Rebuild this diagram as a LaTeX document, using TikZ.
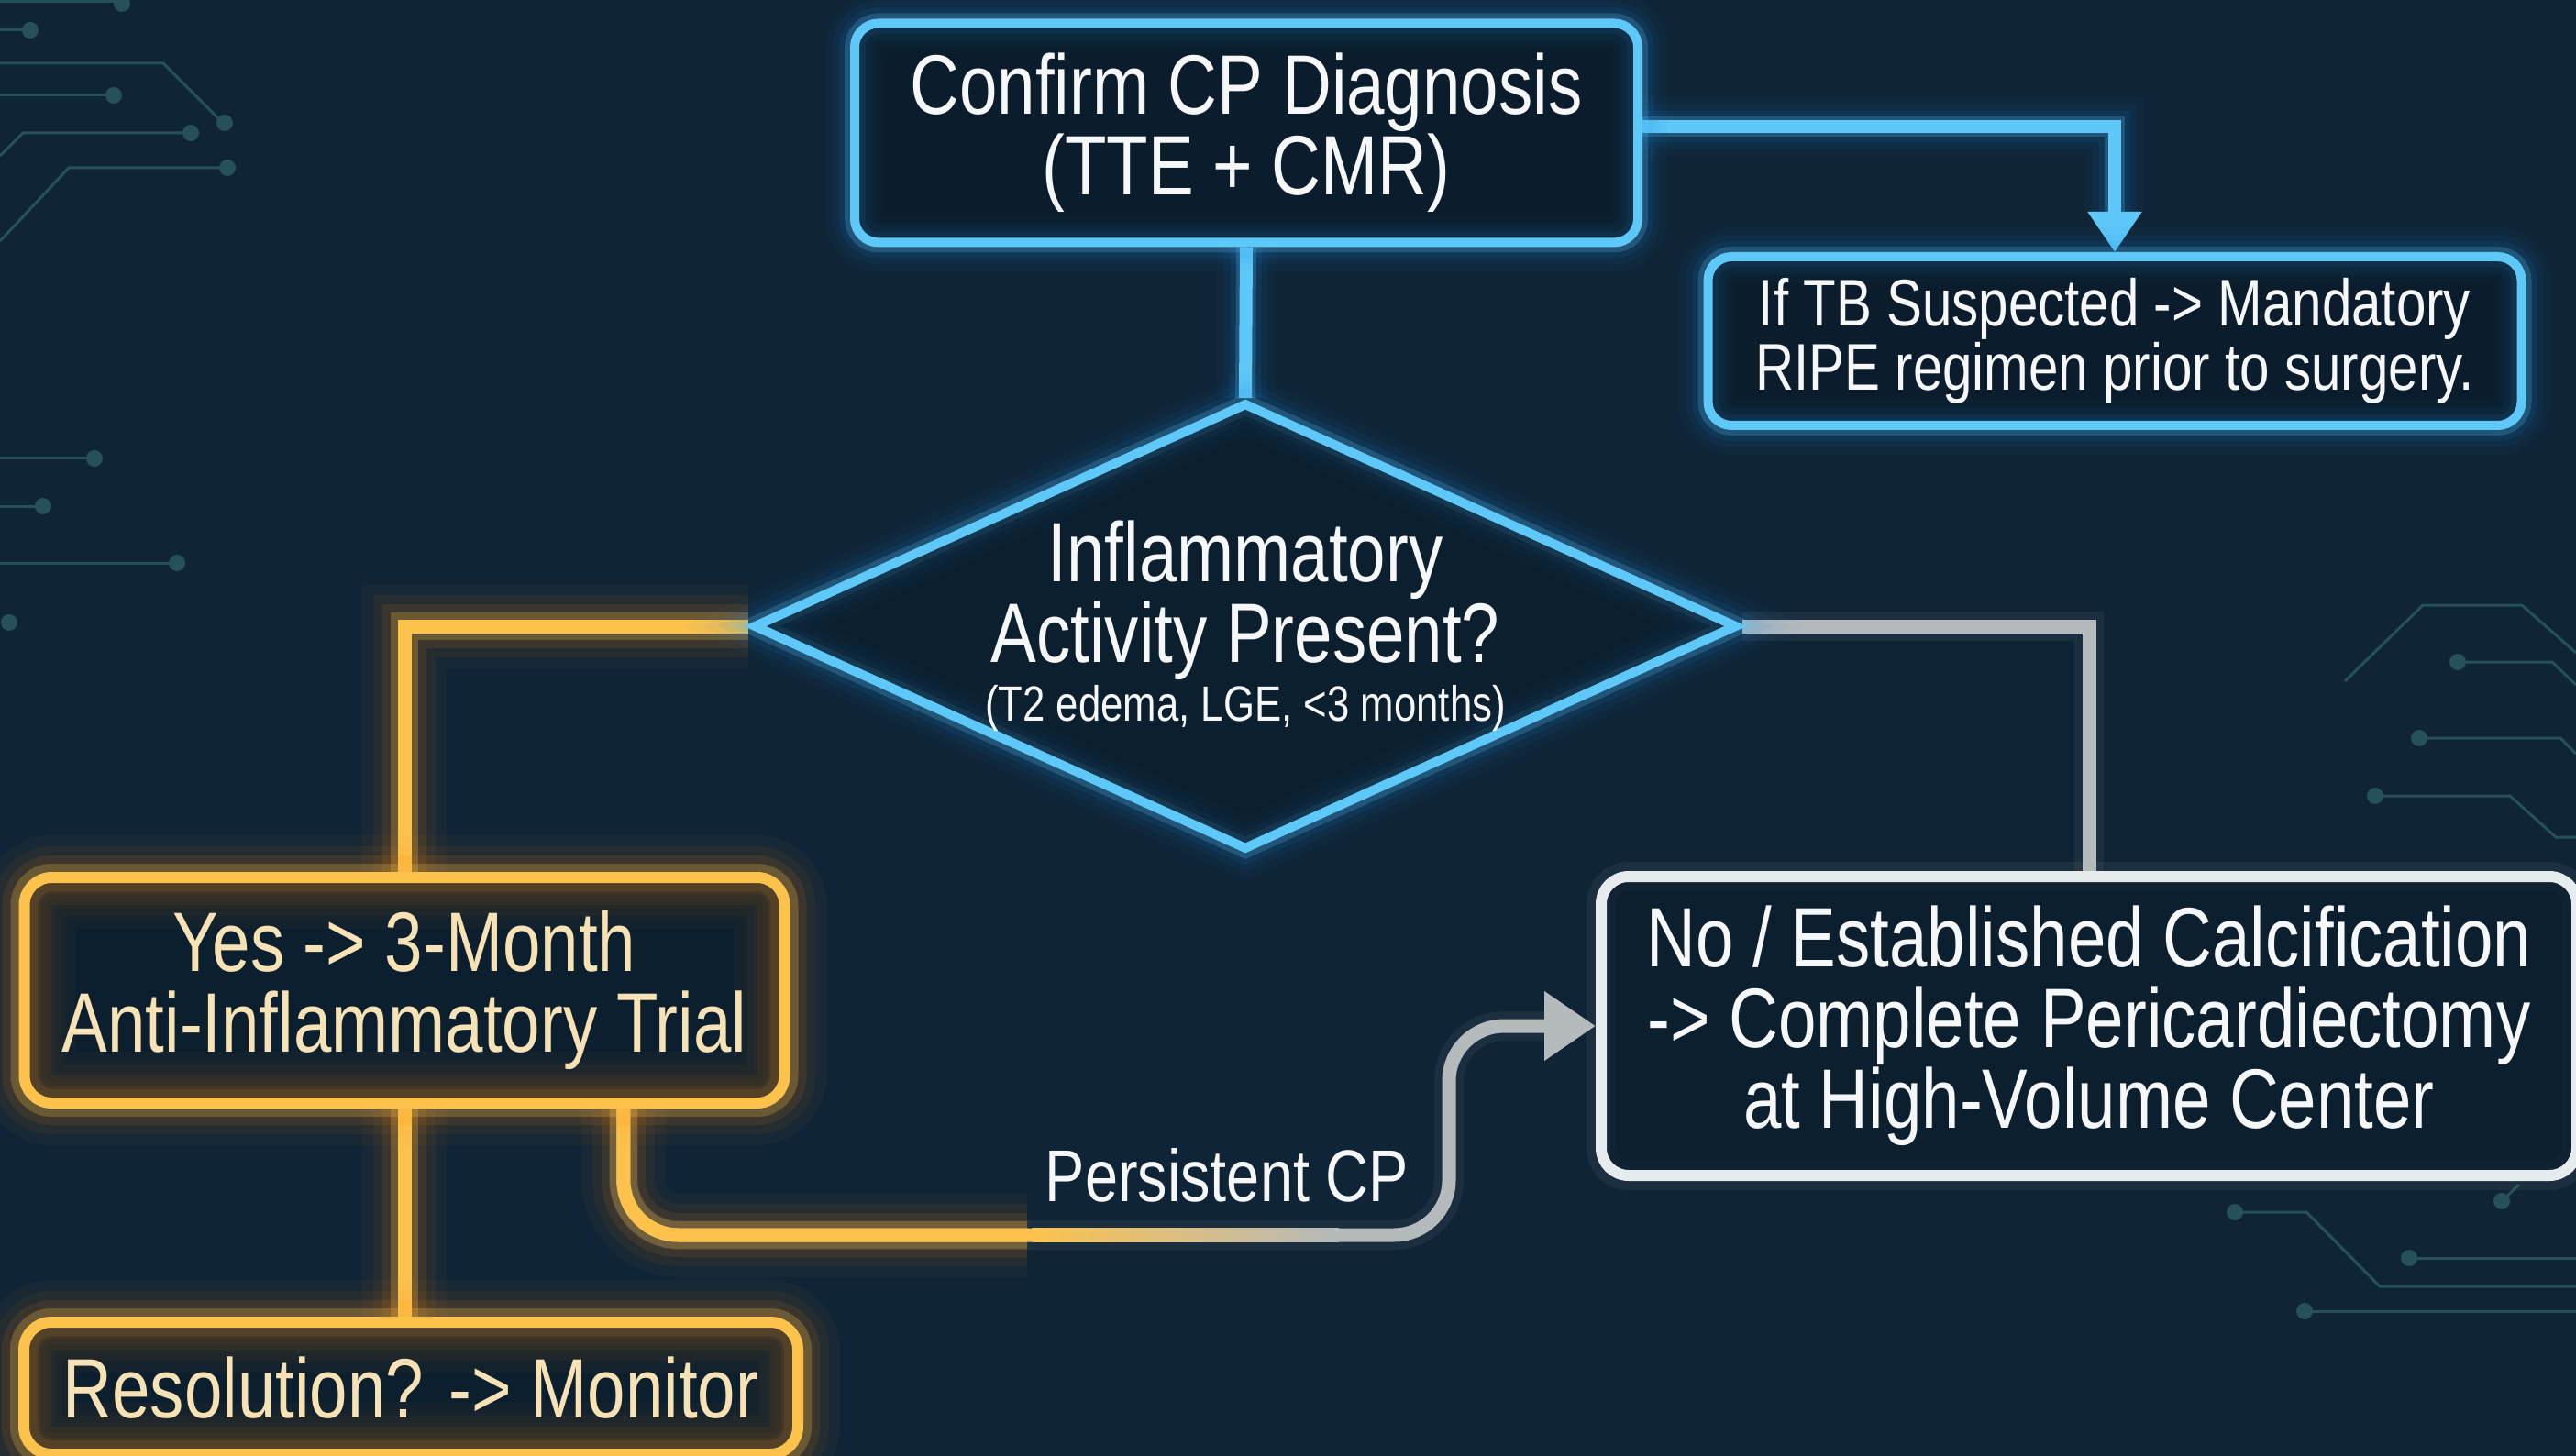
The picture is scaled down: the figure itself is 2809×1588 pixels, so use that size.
\documentclass[tikz,border=0pt]{standalone}
\usepackage{fontspec}
\setmainfont{Liberation Sans}[FakeStretch=0.81]
\usetikzlibrary{shapes.geometric,arrows.meta,calc}
\definecolor{bgc}{HTML}{0F2436}
\definecolor{cblue}{HTML}{5EC8F8}
\definecolor{gblue}{HTML}{1E8CE6}
\definecolor{corange}{HTML}{FCC24C}
\definecolor{gorange}{HTML}{FF8C10}
\definecolor{cgrey}{HTML}{B5BABD}
\definecolor{cwhite}{HTML}{E6ECEE}
\definecolor{boxfill}{HTML}{0B1C2A}
\definecolor{circ}{HTML}{26505A}
\definecolor{wtext}{HTML}{F5F7F8}
\definecolor{otext}{HTML}{F7E2B6}
\newcommand{\myfbig}{\fontsize{46pt}{44pt}\selectfont}
\newcommand{\myfmid}{\fontsize{36pt}{35pt}\selectfont}
\newcommand{\myfsmall}{\fontsize{27pt}{30pt}\selectfont}
\newcommand{\myflab}{\fontsize{40pt}{44pt}\selectfont}
\pgfdeclarelayer{back}
\pgfdeclarelayer{lines}
\pgfsetlayers{back,lines,main}
\tikzset{
  glowB/.style={preaction={draw=gblue, line width=32pt, opacity=0.04},
                preaction={draw=gblue, line width=24pt, opacity=0.06},
                preaction={draw=gblue, line width=17pt, opacity=0.10},
                preaction={draw=cblue, line width=11pt, opacity=0.22}},
  glowO/.style={preaction={draw=gorange, line width=46pt, opacity=0.04},
                preaction={draw=gorange, line width=34pt, opacity=0.06},
                preaction={draw=gorange, line width=24pt, opacity=0.10},
                preaction={draw=corange, line width=15pt, opacity=0.25}},
  glowG/.style={preaction={draw=cgrey, line width=16pt, opacity=0.08}},
  innerB/.style={path picture={
      \foreach \w/\o in {28pt/0.03,20pt/0.04,12pt/0.05}
      \draw[gblue, line width=\w, opacity=\o, rounded corners=13pt]
        (path picture bounding box.south west) rectangle (path picture bounding box.north east);}},
  innerO/.style={path picture={
      \foreach \w/\o in {56pt/0.03,42pt/0.04,30pt/0.05,18pt/0.07}
      \draw[gorange, line width=\w, opacity=\o, rounded corners=15pt]
        (path picture bounding box.south west) rectangle (path picture bounding box.north east);}},
  bluebox/.style={rectangle, rounded corners=13pt, glowB, innerB, draw=cblue, line width=5pt,
    fill=boxfill, fill opacity=0.8, text opacity=1, text=wtext, align=center, inner sep=0pt},
  bluediam/.style={diamond, aspect=2.2, glowB, draw=cblue, line width=5pt,
    fill=boxfill, fill opacity=0.5, text opacity=1, text=wtext, align=center, inner sep=0pt},
  orangebox/.style={rectangle, rounded corners=15pt, glowO, innerO, draw=corange, line width=6pt,
    fill=boxfill, fill opacity=0.6, text opacity=1, text=otext, align=center, inner sep=0pt},
  whitebox/.style={rectangle, rounded corners=15pt, glowG, draw=cwhite, line width=6pt,
    fill=boxfill, fill opacity=0.6, text opacity=1, text=wtext, align=center, inner sep=0pt},
  blueline/.style={glowB, draw=cblue, line width=7pt},
  orangeline/.style={glowO, draw=corange, line width=7.5pt},
  greyline/.style={glowG, draw=cgrey, line width=7.5pt},
  circline/.style={draw=circ, line width=1.5pt},
  circdot/.style={fill=circ},
}
\begin{document}
\begin{tikzpicture}[x=0.5pt, y=-0.5pt]
\useasboundingbox (0,0) rectangle (2809,1588);
\begin{pgfonlayer}{back}
\fill[bgc] (0,0) rectangle (2809,1588);
% circuit decorations left top
\draw[circline] (0,2) -- (125,2); \fill[circdot] (133,4) circle (4.5pt);
\draw[circline] (0,33) -- (28,33); \fill[circdot] (33,33) circle (4.5pt);
\draw[circline] (0,69) -- (178,69) -- (240,131); \fill[circdot] (245,134) circle (4.5pt);
\draw[circline] (0,104) -- (118,104); \fill[circdot] (124,104) circle (4.5pt);
\draw[circline] (0,170) -- (25,145) -- (203,145); \fill[circdot] (208,145) circle (4.5pt);
\draw[circline] (0,263) -- (75,183) -- (243,183); \fill[circdot] (248,183) circle (4.5pt);
% left middle
\draw[circline] (0,500) -- (98,500); \fill[circdot] (103,500) circle (4.5pt);
\draw[circline] (0,552) -- (42,552); \fill[circdot] (47,552) circle (4.5pt);
\draw[circline] (0,614) -- (188,614); \fill[circdot] (193,614) circle (4.5pt);
\fill[circdot] (10,679) circle (4.5pt);
% right middle
\draw[circline] (2557,743) -- (2642,660) -- (2750,660) -- (2809,712);
\draw[circline] (2680,722) -- (2783,722) -- (2809,747); \fill[circdot] (2680,722) circle (4.5pt);
\draw[circline] (2638,805) -- (2792,805) -- (2809,822); \fill[circdot] (2638,805) circle (4.5pt);
\draw[circline] (2590,868) -- (2737,868) -- (2787,913) -- (2809,913); \fill[circdot] (2590,868) circle (4.5pt);
% right bottom
\draw[circline] (2437,1322) -- (2515,1322) -- (2595,1403) -- (2809,1403); \fill[circdot] (2437,1322) circle (4.5pt);
\draw[circline] (2627,1372) -- (2809,1372); \fill[circdot] (2627,1372) circle (4.5pt);
\draw[circline] (2513,1430) -- (2809,1430); \fill[circdot] (2513,1430) circle (4.5pt);
\draw[circline] (2728,1310) -- (2747,1292); \fill[circdot] (2728,1310) circle (4.5pt);
\end{pgfonlayer}

\node[bluebox, font=\myfbig, minimum width=427pt, minimum height=119.5pt] (top) at (1359,145)
  {Confirm CP Diagnosis\\(TTE + CMR)};
\node[bluebox, font=\myfmid, minimum width=443.5pt, minimum height=92pt] (tb) at (2306,372)
  {If TB Suspected -> Mandatory\\RIPE regimen prior to surgery.};
\node[bluediam, font=\myfbig, minimum width=532pt, minimum height=243pt] (dia) at (1358,683)
  {Inflammatory\\Activity Present?\\[-12pt]{\myfsmall (T2 edema, LGE, <3 months)}};
\node[orangebox, font=\myfbig, minimum width=414.5pt, minimum height=123pt] (yes) at (441,1080)
  {Yes -> 3-Month\\Anti-Inflammatory Trial};
\node[orangebox, font=\myfbig, minimum width=422pt, minimum height=72pt] (res) at (448,1514)
  {Resolution? -> Monitor};
\node[whitebox, font=\myfbig, minimum width=532pt, minimum height=163pt] (no) at (2278,1119)
  {No / Established Calcification\\-> Complete Pericardiectomy\\at High-Volume Center};
\node[text=wtext, inner sep=0pt, font=\myflab] (pcp) at (1338,1282) {Persistent CP};

\begin{pgfonlayer}{lines}
\draw[blueline, -{Triangle[width=28pt,length=22pt]}] (top.east |- 0,138) -| (tb.north);
\draw[blueline] (top.south) -- (dia.north);
\draw[orangeline] (dia.west) -| (yes.north);
\draw[orangeline] (yes.south) -- (yes.south |- res.north);
\draw[greyline] (dia.east) -| (no.north);
\coordinate (ps) at ($(yes.south west)!0.784!(yes.south east)$);
\draw[greyline, rounded corners=30pt, -{Triangle[width=36pt,length=28pt]}]
  (ps) |- (1580,1347) |- (no.west);
\draw[orangeline, line cap=round, rounded corners=30pt] (ps) |- (1120,1347);
\shade[left color=corange, right color=cgrey] (1125,1339.5) rectangle (1460,1354.5);
\end{pgfonlayer}
\end{tikzpicture}
\end{document}
